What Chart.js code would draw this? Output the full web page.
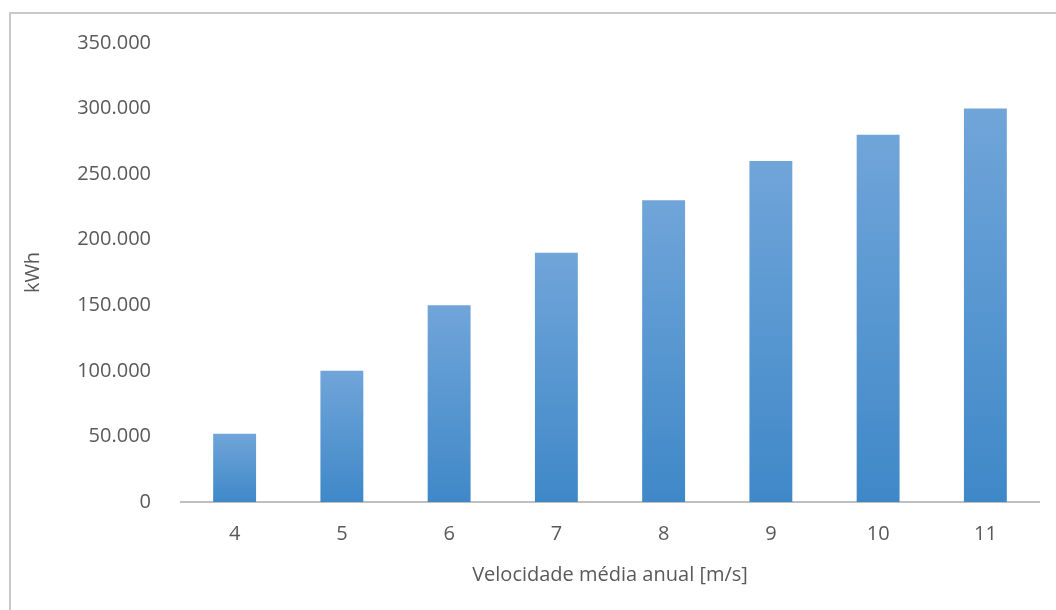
<!DOCTYPE html>
<html>
<head>
<meta charset="utf-8">
<script src="https://cdn.jsdelivr.net/npm/chart.js@4.4.1/dist/chart.umd.min.js"></script>
<style>
  html, body { margin: 0; padding: 0; background: #fff; overflow: hidden; }
  #wrap { position: relative; width: 1056px; height: 610px; }
  #frame { position: absolute; left: 9px; top: 12px; width: 1200px; height: 800px;
           border: 2px solid #c9c9c9; box-sizing: border-box; }
  #c { position: absolute; left: 0; top: 0; }
</style>
</head>
<body>
<div id="wrap">
  <div id="frame"></div>
  <canvas id="c" width="1056" height="610"></canvas>
</div>
<script>
// Annual energy yield by mean wind speed
const speeds = ['4', '5', '6', '7', '8', '9', '10', '11'];
const energyKWh = [52000, 100000, 150000, 190000, 230000, 260000, 280000, 300000];
const yTicks = [0, 50000, 100000, 150000, 200000, 250000, 300000, 350000];

const FONT = '"Open Sans", "DejaVu Sans", sans-serif';
const TEXT = '#595959';

// thousands separator with a dot
const fmt = v => String(v).replace(/\B(?=(\d{3})+(?!\d))/g, '.');

// vertical gradient per bar: lighter top, darker base
function barGradient(ctx) {
  const chart = ctx.chart;
  const y = chart.scales.y;
  if (!chart.chartArea || !y || ctx.raw === undefined) return '#5b9bd5';
  const top = y.getPixelForValue(ctx.raw);
  const bottom = y.getPixelForValue(0);
  if (!isFinite(top) || !isFinite(bottom) || top === bottom) return '#5b9bd5';
  const g = chart.ctx.createLinearGradient(0, top, 0, bottom);
  g.addColorStop(0, '#70a5d9');
  g.addColorStop(1, '#3f88c8');
  return g;
}

new Chart(document.getElementById('c'), {
  type: 'bar',
  data: {
    labels: speeds,
    datasets: [{
      data: energyKWh,
      backgroundColor: barGradient,
      borderWidth: 0,
      barPercentage: 0.4,
      categoryPercentage: 1.0
    }]
  },
  options: {
    responsive: false,
    animation: false,
    devicePixelRatio: 1,
    layout: { padding: { left: 0, right: 17, top: 43, bottom: 0 } },
    plugins: { legend: { display: false }, tooltip: { enabled: false } },
    scales: {
      x: {
        grid: { display: false },
        border: { display: true, color: '#bfbfbf', width: 2 },
        ticks: { color: TEXT, font: { family: FONT, size: 20 }, padding: 12 },
        title: {
          display: true, text: 'Velocidade média anual [m/s]', color: TEXT,
          font: { family: FONT, size: 20 }, padding: { top: 23, bottom: 23 }
        },
        afterFit: s => { s.height = 108; }
      },
      y: {
        min: 0, max: 350000,
        grid: { display: false },
        border: { display: false },
        afterBuildTicks: s => { s.ticks = yTicks.map(v => ({ value: v })); },
        ticks: {
          color: TEXT, font: { family: FONT, size: 20 }, padding: 22,
          callback: v => fmt(v)
        },
        title: {
          display: true, text: 'kWh', color: TEXT,
          font: { family: FONT, size: 20 }, padding: { top: 21, bottom: 21 }
        },
        afterFit: s => { s.width = 181; }
      }
    }
  }
});
</script>
</body>
</html>
